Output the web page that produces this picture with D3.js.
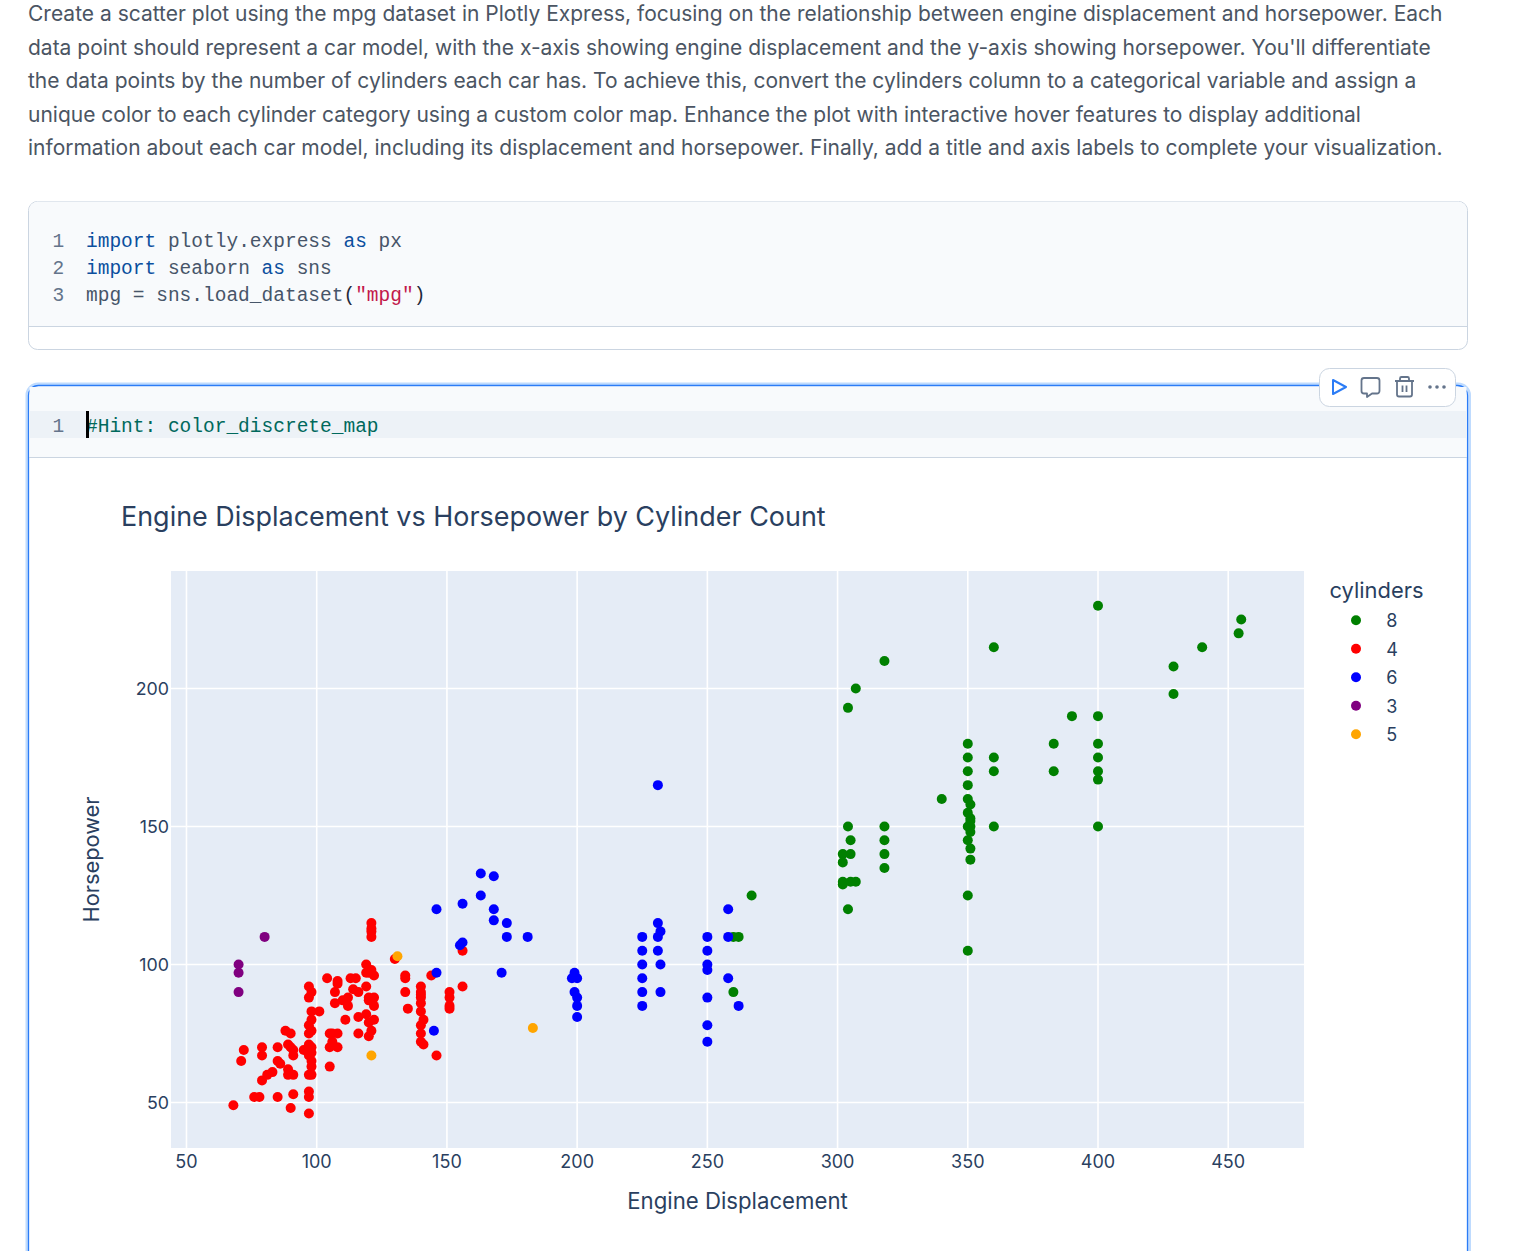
<!DOCTYPE html>
<html><head><meta charset="utf-8">
<script src="https://cdn.jsdelivr.net/npm/d3@7"></script>
<style>html,body{margin:0;padding:0;background:#fff;overflow:hidden}svg{display:block}</style>
</head><body><div id="chart"></div>
<script>
const promptLines = [
"Create a scatter plot using the mpg dataset in Plotly Express, focusing on the relationship between engine displacement and horsepower. Each",
"data point should represent a car model, with the x-axis showing engine displacement and the y-axis showing horsepower. You'll differentiate",
"the data points by the number of cylinders each car has. To achieve this, convert the cylinders column to a categorical variable and assign a",
"unique color to each cylinder category using a custom color map. Enhance the plot with interactive hover features to display additional",
"information about each car model, including its displacement and horsepower. Finally, add a title and axis labels to complete your visualization."];
const codeLines = [
 [["import","#0b4f9e"],[" plotly.express ","#475569"],["as","#0b4f9e"],[" px","#475569"]],
 [["import","#0b4f9e"],[" seaborn ","#475569"],["as","#0b4f9e"],[" sns","#475569"]],
 [["mpg = sns.load_dataset","#475569"],["(","#1e293b"],["\"mpg\"","#c2184b"],[")","#1e293b"]]];
const hintLine = "#Hint: color_discrete_map";
const chartTitle = "Engine Displacement vs Horsepower by Cylinder Count";
const xTitle = "Engine Displacement", yTitle = "Horsepower", legendTitle = "cylinders";
const xTicks = [50,100,150,200,250,300,350,400,450];
const yTicks = [50,100,150,200];
const cylinderOrder = ["8","4","6","3","5"];
const cylinderColors = ["green","red","blue","purple","orange"];

const disp8 = [400,429,429,440,455,454,390,383,383,360,360,360,360,400,400,400,400,400,400,351,351,351,351,351,351,351,350,350,350,350,350,350,350,350,350,350,340,318,318,318,318,318,307,307,305,305,305,304,304,304,302,302,302,302,260,260,262,267];
const hp8   = [230,208,198,215,225,220,190,180,170,215,175,170,150,190,180,175,170,167,150,158,153,152,150,148,142,138,180,175,170,165,160,155,150,145,125,105,160,210,150,145,140,135,200,130,145,140,130,193,150,120,140,137,130,129,110,90,110,125];
const disp4 = [68,71,72,76,78,79,79,79,81,83,85,85,86,85,88,90,89,90,91,91,89,89,91,91,90,97,97,97,97,98,98,98,97,95,97,98,98,97,98,97,98,98,101,97,98,97,104,108,108,107,107,110,112,112,114,116,113,115,119,111,116,119,120,122,121,120,116,120,122,120,121,122,119,121,120,122,119,121,121,121,121,105,106,108,105,106,108,105,130,134,134,134,135,140,140,140,140,140,140,141,140,140,140,141,144,146,151,151,151,151,156,156];
const hp4   = [49,65,69,52,52,70,67,58,60,61,70,65,64,52,76,75,71,70,69,67,62,60,60,53,48,54,52,46,60,60,63,65,67,69,71,70,68,75,76,78,80,83,83,88,90,92,95,94,93,90,86,87,88,85,91,90,95,95,92,80,81,82,79,80,76,74,75,88,88,87,87,85,100,98,97,96,97,115,113,112,110,75,75,75,70,72,70,63,102,96,95,90,84,92,90,89,88,86,83,80,78,75,72,71,96,67,90,88,85,84,92,105];
const disp6 = [163,168,163,156,146,168,168,173,173,181,156,155,146,171,145,199,198,200,199,200,200,200,225,225,225,225,225,225,231,231,231,232,232,232,231,250,250,250,250,250,250,250,258,258,258,262];
const hp6   = [133,132,125,122,120,120,116,115,110,110,108,107,97,97,76,97,95,95,90,88,85,81,110,105,100,95,90,85,115,110,105,112,100,90,165,110,105,100,98,88,78,72,120,110,95,85];
const disp3 = [70,70,70,80];
const hp3   = [100,97,90,110];
const disp5 = [131,183,121];
const hp5   = [103,77,67];
const xBySeries = [disp8,disp4,disp6,disp3,disp5];
const yBySeries = [hp8,hp4,hp6,hp3,hp5];

const W = 1528, H = 1251;
const svg = d3.select("#chart").append("svg").attr("width",W).attr("height",H).attr("viewBox",`0 0 ${W} ${H}`);
const sans = "Inter, 'Open Sans', sans-serif", mono = "'Liberation Mono', monospace";

svg.append("g").selectAll("text").data(promptLines).join("text")
  .attr("x",28).attr("y",(d,i)=>21.4+i*33.5).attr("font-family",sans).attr("font-size",21)
  .attr("fill","#4b5563").text(d=>d);

// first code cell
const c1 = svg.append("g");
c1.append("rect").attr("x",28.5).attr("y",201.5).attr("width",1439).attr("height",148).attr("rx",9)
  .attr("fill","#fff").attr("stroke","#cbd5e1");
c1.append("path").attr("d","M29,326V210.5a9,9 0 0 1 9,-9H1458a9,9 0 0 1 9,9V326Z").attr("fill","#f8fafc");
c1.append("line").attr("x1",29).attr("x2",1467).attr("y1",326.5).attr("y2",326.5).attr("stroke","#cbd5e1");
const codeG = c1.append("g").attr("font-family",mono).attr("font-size",19.5);
codeLines.forEach((segs,i)=>{
  const y = 247+i*27;
  codeG.append("text").attr("x",52.5).attr("y",y).attr("fill","#64748b").text(i+1);
  const t = codeG.append("text").attr("x",86).attr("y",y).attr("xml:space","preserve").style("white-space","pre");
  segs.forEach(s=>t.append("tspan").attr("fill",s[1]).text(s[0]));
});

// active cell
const c2 = svg.append("g");
c2.append("path").attr("d","M27,1260V395a11,11 0 0 1 11,-11H1458a11.5,11 0 0 1 11.5,11V1260").attr("fill","#fff").attr("stroke","#bfdbfe").attr("stroke-width",3);
c2.append("path").attr("d","M28.5,1260V396a10,10 0 0 1 10,-10.5H1457.5a10,10 0 0 1 10,10.5V1260").attr("fill","#fff").attr("stroke","#2b7cf6").attr("stroke-width",1.3);
c2.append("rect").attr("x",29.5).attr("y",387).attr("width",1437).attr("height",70).attr("fill","#f8fafc");
c2.append("rect").attr("x",29.5).attr("y",411).attr("width",1437).attr("height",27).attr("fill","#edf2f7");
c2.append("line").attr("x1",29).attr("x2",1467).attr("y1",457.5).attr("y2",457.5).attr("stroke","#cbd5e1");
c2.append("text").attr("x",52.5).attr("y",432).attr("font-family",mono).attr("font-size",19.5).attr("fill","#64748b").text("1");
c2.append("text").attr("x",86).attr("y",432).attr("font-family",mono).attr("font-size",19.5).attr("fill","#00695c").text(hintLine);
c2.append("rect").attr("x",86).attr("y",411).attr("width",3).attr("height",27).attr("fill","#000");

// toolbar
const tb = svg.append("g");
tb.append("rect").attr("x",1319.5).attr("y",368.5).attr("width",136).attr("height",38).attr("rx",10).attr("fill","#fff").attr("stroke","#cbd5e1");
tb.append("path").attr("d","M1333,380L1346,387L1333,394Z").attr("fill","none").attr("stroke","#2b7cf6").attr("stroke-width",2).attr("stroke-linejoin","round");
const gray = "#64748b";
tb.append("path").attr("d","M1364,378H1377a2.5,2.5 0 0 1 2.5,2.5V391a2.5,2.5 0 0 1 -2.5,2.5H1372L1367,397V393.5H1364a2.5,2.5 0 0 1 -2.5,-2.5V380.5a2.5,2.5 0 0 1 2.5,-2.5Z").attr("fill","none").attr("stroke",gray).attr("stroke-width",1.8).attr("stroke-linejoin","round");
tb.append("path").attr("d","M1395,381H1414M1400,381V378.5a1.5,1.5 0 0 1 1.5,-1.5H1407.5a1.5,1.5 0 0 1 1.5,1.5V381M1397,381V394.5a2,2 0 0 0 2,2H1410a2,2 0 0 0 2,-2V381M1402.5,385.5V392M1406.5,385.5V392").attr("fill","none").attr("stroke",gray).attr("stroke-width",1.8);
tb.append("g").selectAll("circle").data([1430,1437,1444]).join("circle").attr("cx",d=>d).attr("cy",387).attr("r",1.8).attr("fill",gray);

// plot
const left=171,right=1304,top_=571,bottom=1148;
const x = d3.scaleLinear().domain([44.05,479.1]).range([left,right]);
const y = d3.scaleLinear().domain([33.5,242.6]).range([bottom,top_]);
const ink = "#2a3f5f";
const plot = svg.append("g");
plot.append("rect").attr("x",left).attr("y",top_).attr("width",right-left).attr("height",bottom-top_).attr("fill","#e5ecf6");
plot.append("g").selectAll("line").data(xTicks).join("line").attr("x1",d=>x(d)).attr("x2",d=>x(d)).attr("y1",top_).attr("y2",bottom).attr("stroke","#fff").attr("stroke-width",1.6);
plot.append("g").selectAll("line").data(yTicks).join("line").attr("x1",left).attr("x2",right).attr("y1",d=>y(d)).attr("y2",d=>y(d)).attr("stroke","#fff").attr("stroke-width",1.6);

cylinderOrder.forEach((c,si)=>{
  const pts = d3.range(xBySeries[si].length);
  plot.append("g").attr("class","trace-"+c).selectAll("circle").data(pts).join("circle")
    .attr("cx",i=>x(xBySeries[si][i])).attr("cy",i=>y(yBySeries[si][i])).attr("r",5).attr("fill",cylinderColors[si]);
});

const ax = plot.append("g").attr("transform",`translate(-0.5,${bottom})`).call(d3.axisBottom(x).tickValues(xTicks).tickSize(0).tickPadding(7));
ax.select(".domain").remove();
ax.selectAll("text").attr("font-family",sans).attr("font-size",18).attr("fill",ink);
const ay = plot.append("g").attr("transform",`translate(${left},0)`).call(d3.axisLeft(y).tickValues(yTicks).tickSize(0).tickPadding(2));
ay.select(".domain").remove();
ay.selectAll("text").attr("font-family",sans).attr("font-size",17.8).attr("fill",ink);

svg.append("text").attr("x",121).attr("y",526).attr("font-family",sans).attr("font-size",26.95).attr("fill",ink).text(chartTitle);
svg.append("text").attr("x",737.5).attr("y",1209).attr("text-anchor","middle").attr("font-family",sans).attr("font-size",22.2).attr("fill",ink).text(xTitle);
svg.append("text").attr("transform","translate(98.5,859.5) rotate(-90)").attr("text-anchor","middle").attr("font-family",sans).attr("font-size",21.8).attr("fill",ink).text(yTitle);

// legend
const lg = svg.append("g");
lg.append("text").attr("x",1329.5).attr("y",598).attr("font-family",sans).attr("font-size",21.9).attr("fill",ink).text(legendTitle);
const rows = lg.selectAll("g").data(cylinderOrder).join("g").attr("transform",(d,i)=>`translate(0,${620.3+i*28.5})`);
rows.append("circle").attr("cx",1356).attr("r",5).attr("fill",(d,i)=>cylinderColors[i]);
rows.append("text").attr("x",1386.3).attr("y",7).attr("font-family",sans).attr("font-size",18).attr("fill",ink).text(d=>d);
</script></body></html>
